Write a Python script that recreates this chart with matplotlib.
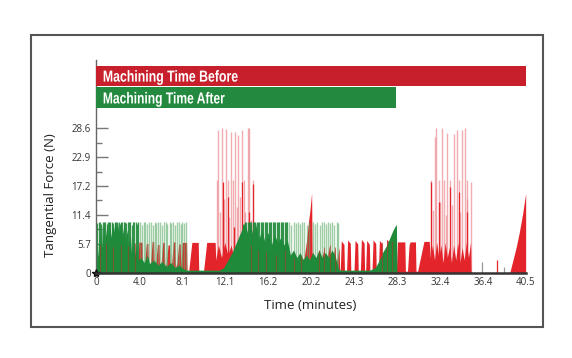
import matplotlib
matplotlib.use("Agg")
import matplotlib.pyplot as plt
from matplotlib.patches import Rectangle, PathPatch
from matplotlib.textpath import TextPath
from matplotlib.font_manager import FontProperties
from matplotlib.transforms import Affine2D, ScaledTranslation

plt.rcParams["font.family"] = ["Open Sans", "DejaVu Sans"]

# ---- data ----
before_minutes = 40.5
after_minutes = 28.3

x_ticks = [0, 4.05, 8.1, 12.15, 16.2, 20.25, 24.3, 28.35, 32.4, 36.45, 40.5]
x_labels = ["0", "4.0", "8.1", "12.1", "16.2", "20.2", "24.3", "28.3", "32.4", "36.4", "40.5"]
y_ticks = [0, 5.72, 11.44, 17.16, 22.88, 28.6]
y_labels = ["0", "5.7", "11.4", "17.2", "22.9", "28.6"]
y_minor = [2.86, 8.58, 14.3, 20.02, 25.74]

# "before" force trace (solid envelope)
before_t = [0, 0.3, 0.35, 0.9, 0.95, 1.6, 1.65, 2.3, 2.35, 3.0, 3.05, 3.6, 3.65,
            3.9, 4.0, 4.3, 4.35, 4.55, 4.7, 4.85, 4.9, 5.1, 5.25, 5.4, 5.45, 5.6,
            5.75, 5.9, 5.95, 6.1, 6.25, 6.4, 6.45, 6.6, 6.75, 6.9, 6.95, 7.1, 7.25,
            7.4, 7.45, 7.6, 7.75, 7.9, 7.95, 8.1, 8.5, 8.55, 8.7, 9.0, 9.6, 9.65,
            10.1, 10.4, 11.2, 11.25, 11.5, 11.8, 12.1, 12.4, 12.7, 13.0, 13.3, 13.6,
            13.9, 14.2, 14.5, 14.8, 15.1, 15.5, 16.0, 16.5, 17.0, 17.5, 18.0, 18.5,
            19.0, 19.4, 19.6, 19.8, 20.0, 20.15, 20.3, 20.35, 20.6, 21.0, 21.05,
            21.5, 21.55, 22.0, 22.05, 22.5, 22.55, 22.9, 22.95,
            23.0, 23.1, 23.35, 23.4, 23.6, 23.7, 23.95, 24.0, 24.3, 24.4, 24.65,
            24.7, 24.9, 25.0, 25.25, 25.3, 25.4, 25.5, 25.75, 25.8, 26.0, 26.1,
            26.35, 26.4, 26.6, 26.7, 26.95, 27.0, 27.3, 27.4, 27.65, 27.7, 27.8,
            27.9, 28.15, 28.2,
            28.3, 28.4, 29.1, 29.15, 29.35, 29.5, 29.6, 30.1, 30.15, 30.3, 30.9,
            31.4, 31.5, 31.7, 31.9, 32.1, 32.3, 32.5, 32.7, 32.9, 33.1, 33.3, 33.5,
            33.7, 33.9, 34.1, 34.3, 34.5, 34.7, 34.9, 35.1, 35.3, 35.35, 39.0, 39.3,
            39.6, 39.9, 40.2, 40.5]
before_f = [0.3, 5.5, 0.5, 5.8, 0.5, 5.0, 0.5, 5.5, 0.5, 5.2, 0.5, 5.8, 0.5,
            1.0, 6.1, 6.0, 1.0, 2.0, 5.8, 5.8, 1.0, 2.0, 6.2, 6.2, 1.0, 2.0,
            5.6, 5.6, 1.0, 2.0, 6.0, 6.0, 1.0, 2.0, 5.5, 5.5, 1.0, 2.0, 6.1,
            6.1, 1.0, 2.0, 5.7, 5.7, 1.0, 6.0, 6.0, 0.3, 0.3, 6.0, 6.0, 0.3,
            0.3, 6.0, 6.0, 2.5, 5.5, 3.0, 6.0, 3.5, 5.5, 2.5, 5.0, 2.0,
            4.5, 2.0, 5.0, 1.5, 3.0, 1.0, 2.5, 1.0, 2.0, 1.0, 2.5, 1.0,
            2.0, 2.5, 3.0, 6.0, 10.0, 12.5, 15.8, 4.0, 2.0, 4.5, 1.0,
            5.0, 1.0, 5.5, 1.0, 5.0, 1.0, 5.0, 0.3,
            0.3, 6.3, 5.6, 0.3, 0.3, 6.5, 5.8, 0.3, 0.3, 6.4, 5.7,
            0.3, 0.3, 6.6, 5.9, 0.3, 0.3, 6.4, 5.6, 0.3, 0.3, 6.5,
            5.8, 0.3, 0.3, 6.4, 5.7, 0.3, 0.3, 6.6, 5.9, 0.3, 0.3,
            6.3, 5.6, 0.3,
            0.3, 6.1, 6.1, 0.3, 0.3, 5.5, 6.1, 6.1, 0.3, 0.3, 6.2,
            6.2, 3.0, 5.5, 2.5, 6.0, 3.0, 5.5, 2.0, 6.0, 3.0, 5.0, 2.0,
            5.5, 2.5, 6.0, 2.0, 5.0, 2.5, 6.0, 3.0, 6.0, 0.0, 0.0, 2.5,
            5.0, 8.0, 11.5, 15.7]

# "before" tall pale spikes
before_spike_t = [11.34, 11.5, 11.8, 12.2, 12.4, 12.7, 12.9, 13.1, 13.4, 13.7, 13.9,
                  14.3, 14.4, 14.8, 11.65, 12.05, 12.55, 13.25, 13.55, 14.05, 14.6,
                  31.6, 31.9, 32.07, 32.3, 32.6, 32.8, 33.1, 33.4, 33.7, 34.0, 34.2,
                  34.5, 34.8, 35.0, 35.3, 31.75, 32.45, 32.95, 33.55, 34.35, 34.95]
before_spike_f = [18.4, 28.3, 28.6, 28.4, 18.4, 27.8, 18.4, 27.8, 27.3, 28.3, 18.4,
                  28.6, 28.6, 18.4, 12.0, 14.5, 11.0, 13.0, 15.0, 12.0, 10.5,
                  18.4, 26.9, 28.6, 18.4, 28.6, 18.4, 27.6, 18.4, 27.5, 28.3, 18.4,
                  28.3, 28.6, 18.4, 18.0, 12.5, 14.0, 11.5, 13.5, 12.0, 14.5]

# "before" saturated mid-height spikes
before_dark_t = [11.9, 12.4, 13.0, 13.7, 14.4, 14.8, 31.6, 32.3, 33.4, 34.2, 35.0]
before_dark_f = [18.0, 15.0, 9.0, 18.0, 12.0, 17.5, 18.0, 14.0, 17.0, 16.0, 12.0]

# "before" lines showing through the "after" trace
before_thru_t = [0.3, 0.9, 1.6, 2.3, 3.0, 3.6, 14.6, 15.2, 16.0, 16.9, 17.8,
                 18.6, 19.3, 21.0, 21.5, 22.0, 22.5, 26.9, 27.4, 27.9]
before_thru_f = [5.5, 5.8, 5.0, 5.5, 5.2, 5.8, 5.5, 4.5, 4.0, 3.5, 4.5,
                 3.0, 3.5, 4.5, 5.0, 5.5, 5.0, 6.0, 6.4, 6.2]

# small isolated events after the cut ends
idle_t = [36.4, 37.75, 38.45]
idle_f = [2.2, 2.6, 1.2]
idle_c = ["#999999", "#e3242b", "#999999"]

# "after" force trace (solid envelope)
after_t = [0, 0.1, 0.15, 0.3, 0.35, 0.5, 0.55, 0.7, 0.75, 0.9, 1.0, 1.1, 1.2, 1.35,
           1.5, 1.6, 1.75, 1.9, 2.0, 2.1, 2.3, 2.4, 2.6, 2.7, 2.9, 3.0, 3.2, 3.3,
           3.5, 3.6, 3.8, 3.95, 4.2, 4.5, 4.8, 5.0, 5.4, 5.8, 6.2, 6.6, 7.0, 7.4,
           7.8, 8.2, 8.5, 11.6, 12.0, 12.4, 12.8, 13.2, 13.5, 13.8, 14.0, 14.3,
           14.5, 14.8, 15.0, 15.3, 15.6, 15.9, 16.2, 16.5, 16.8, 17.1, 17.4, 17.7,
           18.0, 18.3, 18.6, 18.9, 19.2, 19.5, 19.8, 20.1, 20.4, 20.7, 21.0, 21.3,
           21.6, 21.9, 22.2, 22.5, 22.8, 23.0, 25.8, 26.3, 26.7, 27.0, 27.4, 27.7,
           28.0, 28.3, 28.35]
after_f = [0.4, 6.0, 3.0, 8.0, 4.0, 9.5, 5.0, 10.0, 6.0, 8.0, 10.0, 6.5, 10.0, 7.0,
           10.0, 8.0, 10.0, 8.5, 10.0, 8.0, 10.0, 7.0, 9.5, 6.0, 8.5, 5.0, 7.5, 4.0,
           6.5, 3.5, 5.5, 2.5, 3.0, 2.0, 3.5, 1.8, 2.5, 1.5, 2.2, 1.2, 2.0, 1.0,
           1.5, 0.8, 0.5, 0.5, 1.0, 2.5, 4.0, 6.0, 7.5, 9.0, 10.0, 7.5,
           10.0, 7.0, 10.0, 6.5, 8.5, 6.0, 8.0, 5.5, 7.5, 6.0, 7.0, 5.5,
           6.5, 3.5, 4.5, 3.0, 4.0, 2.5, 3.5, 2.5, 4.0, 3.0, 4.5, 3.0,
           4.0, 3.0, 4.5, 3.5, 1.0, 0.5, 0.5, 1.0, 2.5, 4.0, 5.5, 7.0,
           8.5, 9.6, 0.0]

# "after" dense dark spikes (clipped at 10)
after_dense_t = [0.05, 0.2, 0.32, 0.45, 0.58, 0.7, 0.82, 0.95, 1.08, 1.2, 1.32, 1.45,
                 1.58, 1.7, 1.82, 1.95, 2.08, 2.2, 2.32, 2.45, 2.58, 2.7, 2.82, 2.95,
                 3.08, 3.2, 3.32, 3.45, 3.58, 3.7, 3.82, 3.95,
                 13.85, 14.0, 14.12, 14.25, 14.38, 14.5, 14.62, 14.75, 14.88, 15.0,
                 15.12, 15.25, 15.38, 15.5, 15.62, 15.75, 15.88, 16.0, 16.12, 16.25,
                 16.38, 16.5, 16.62, 16.75, 16.88, 17.0, 17.12, 17.25, 17.38, 17.5,
                 17.62, 17.75, 17.88, 18.0]
after_dense_f = [9.8, 10.0, 10.0, 9.6, 10.0, 10.0, 10.0, 9.7, 10.0, 10.0, 10.0, 10.0,
                 9.8, 10.0, 10.0, 10.0, 10.0, 9.6, 10.0, 10.0, 10.0, 10.0, 9.8, 10.0,
                 10.0, 10.0, 9.5, 10.0, 10.0, 10.0, 9.7, 10.0,
                 9.6, 10.0, 10.0, 10.0, 10.0, 10.0, 10.0, 10.0, 10.0, 10.0,
                 10.0, 10.0, 10.0, 10.0, 10.0, 10.0, 10.0, 10.0, 10.0, 10.0,
                 10.0, 10.0, 10.0, 10.0, 10.0, 10.0, 10.0, 10.0, 10.0, 10.0,
                 10.0, 10.0, 10.0, 10.0]

# "after" pale spikes
after_spike_t = [4.1, 4.3, 4.45, 4.6, 4.8, 4.95, 5.15, 5.3, 5.5, 5.65, 5.85, 6.0,
                 6.2, 6.35, 6.55, 6.7, 6.9, 7.05, 7.25, 7.4, 7.6, 7.75, 7.95, 8.1,
                 8.3, 8.45,
                 18.2, 18.4, 18.6, 18.8, 19.0, 19.2, 19.4, 19.6, 19.85, 20.05, 20.45,
                 20.65, 20.85, 21.05, 21.25, 21.45, 21.65, 21.85, 22.05, 22.25, 22.45,
                 22.65, 22.8]
after_spike_f = [10.0, 9.5, 10.0, 10.0, 9.7, 10.0, 10.0, 9.4, 10.0, 9.8, 10.0, 10.0,
                 9.5, 10.0, 10.0, 9.6, 10.0, 9.8, 10.0, 9.5, 10.0, 10.0, 9.6, 10.0,
                 9.8, 10.0,
                 10.0, 9.5, 10.0, 9.8, 10.0, 9.6, 10.0, 10.0, 9.4, 10.0, 10.0,
                 9.7, 10.0, 9.5, 10.0, 10.0, 9.6, 10.0, 9.8, 10.0, 9.5, 10.0, 9.8]

RED = "#e3242b"
GREEN = "#1f8a3a"
BAR_RED = "#c81f2c"
BAR_GREEN = "#23893e"

fig = plt.figure(figsize=(5.72, 3.58), dpi=100)
fig.patches.append(Rectangle((0.0542, 0.0866), 0.8946, 0.8156, transform=fig.transFigure,
                             fill=False, edgecolor="#555555", linewidth=1.5))

ax = fig.add_axes([0.1687, 0.2383, 0.7503, 0.5941])
ax.set_axisbelow(True)

# before trace
ax.vlines(before_spike_t, 0, before_spike_f, color="#ec8a90", linewidth=1.0, alpha=0.7, zorder=1)
ax.fill_between(before_t, before_f, color=RED, linewidth=0, zorder=2)
ax.vlines(before_dark_t, 0, before_dark_f, color=RED, linewidth=0.9, zorder=2)
ax.vlines(idle_t, 0, idle_f, colors=idle_c, linewidth=0.9, zorder=2)

# after trace
ax.vlines(after_spike_t, 0, after_spike_f, color="#5fae6d", linewidth=1.0, alpha=0.6, zorder=3)
ax.vlines(after_dense_t, 0, after_dense_f, color=GREEN, linewidth=0.9, alpha=0.9, zorder=3)
ax.fill_between(after_t, after_f, color=GREEN, linewidth=0, zorder=4)
ax.vlines(before_thru_t, 0, before_thru_f, color="#a83a24", linewidth=0.8, alpha=0.6, zorder=5)

# machining time bars
ax.barh([38.96], [before_minutes], height=3.96, left=0, color=BAR_RED, zorder=6)
ax.barh([34.64], [after_minutes], height=4.16, left=0, color=BAR_GREEN, zorder=6)


def bar_label(text, x, y_base, width_in):
    # bold label squeezed horizontally like a condensed face
    tp = TextPath((0, 0), text, size=11.5, prop=FontProperties(family="Liberation Sans", weight="bold"))
    sx = width_in * 72.0 / tp.get_extents().width
    tr = (Affine2D().scale(sx / 72.0, 1 / 72.0) + fig.dpi_scale_trans.frozen()
          + ScaledTranslation(x, y_base, ax.transData))
    ax.add_patch(PathPatch(tp, transform=tr, facecolor="white", edgecolor="none",
                           zorder=7, clip_on=False))


bar_label("Machining Time Before", 0.6, 37.85, 1.34)
bar_label("Machining Time After", 0.6, 33.52, 1.21)

ax.plot([0], [0], marker="*", color="#111111", markersize=6, clip_on=False, zorder=8)

ax.set_xlim(0, 40.5)
ax.set_ylim(0, 42.13)
ax.set_xticks(x_ticks)
ax.set_xticklabels(x_labels)
ax.set_yticks(y_ticks)
ax.set_yticklabels(y_labels)
ax.set_yticks(y_minor, minor=True)
ax.tick_params(axis="x", length=0, pad=3, labelsize=7, labelcolor="#333333")
ax.tick_params(axis="y", which="major", direction="in", length=8.5, width=1,
               color="#777777", pad=4, labelsize=7, labelcolor="#333333")
ax.tick_params(axis="y", which="minor", direction="in", length=4.3, width=1, color="#777777")

for s in ["top", "right"]:
    ax.spines[s].set_visible(False)
ax.spines["left"].set_color("#666666")
ax.spines["left"].set_linewidth(1.0)
ax.spines["bottom"].set_color("#333333")
ax.spines["bottom"].set_linewidth(1.8)
ax.spines["bottom"].set_zorder(9)

fig.text(0.089, 0.455, "Tangential Force (N)", rotation=90, ha="center", va="center",
         fontsize=9.5, color="#222222")
fig.text(0.543, 0.146, "Time (minutes)", ha="center", va="center",
         fontsize=9.5, color="#222222")

fig.savefig("out.png", dpi=100)
